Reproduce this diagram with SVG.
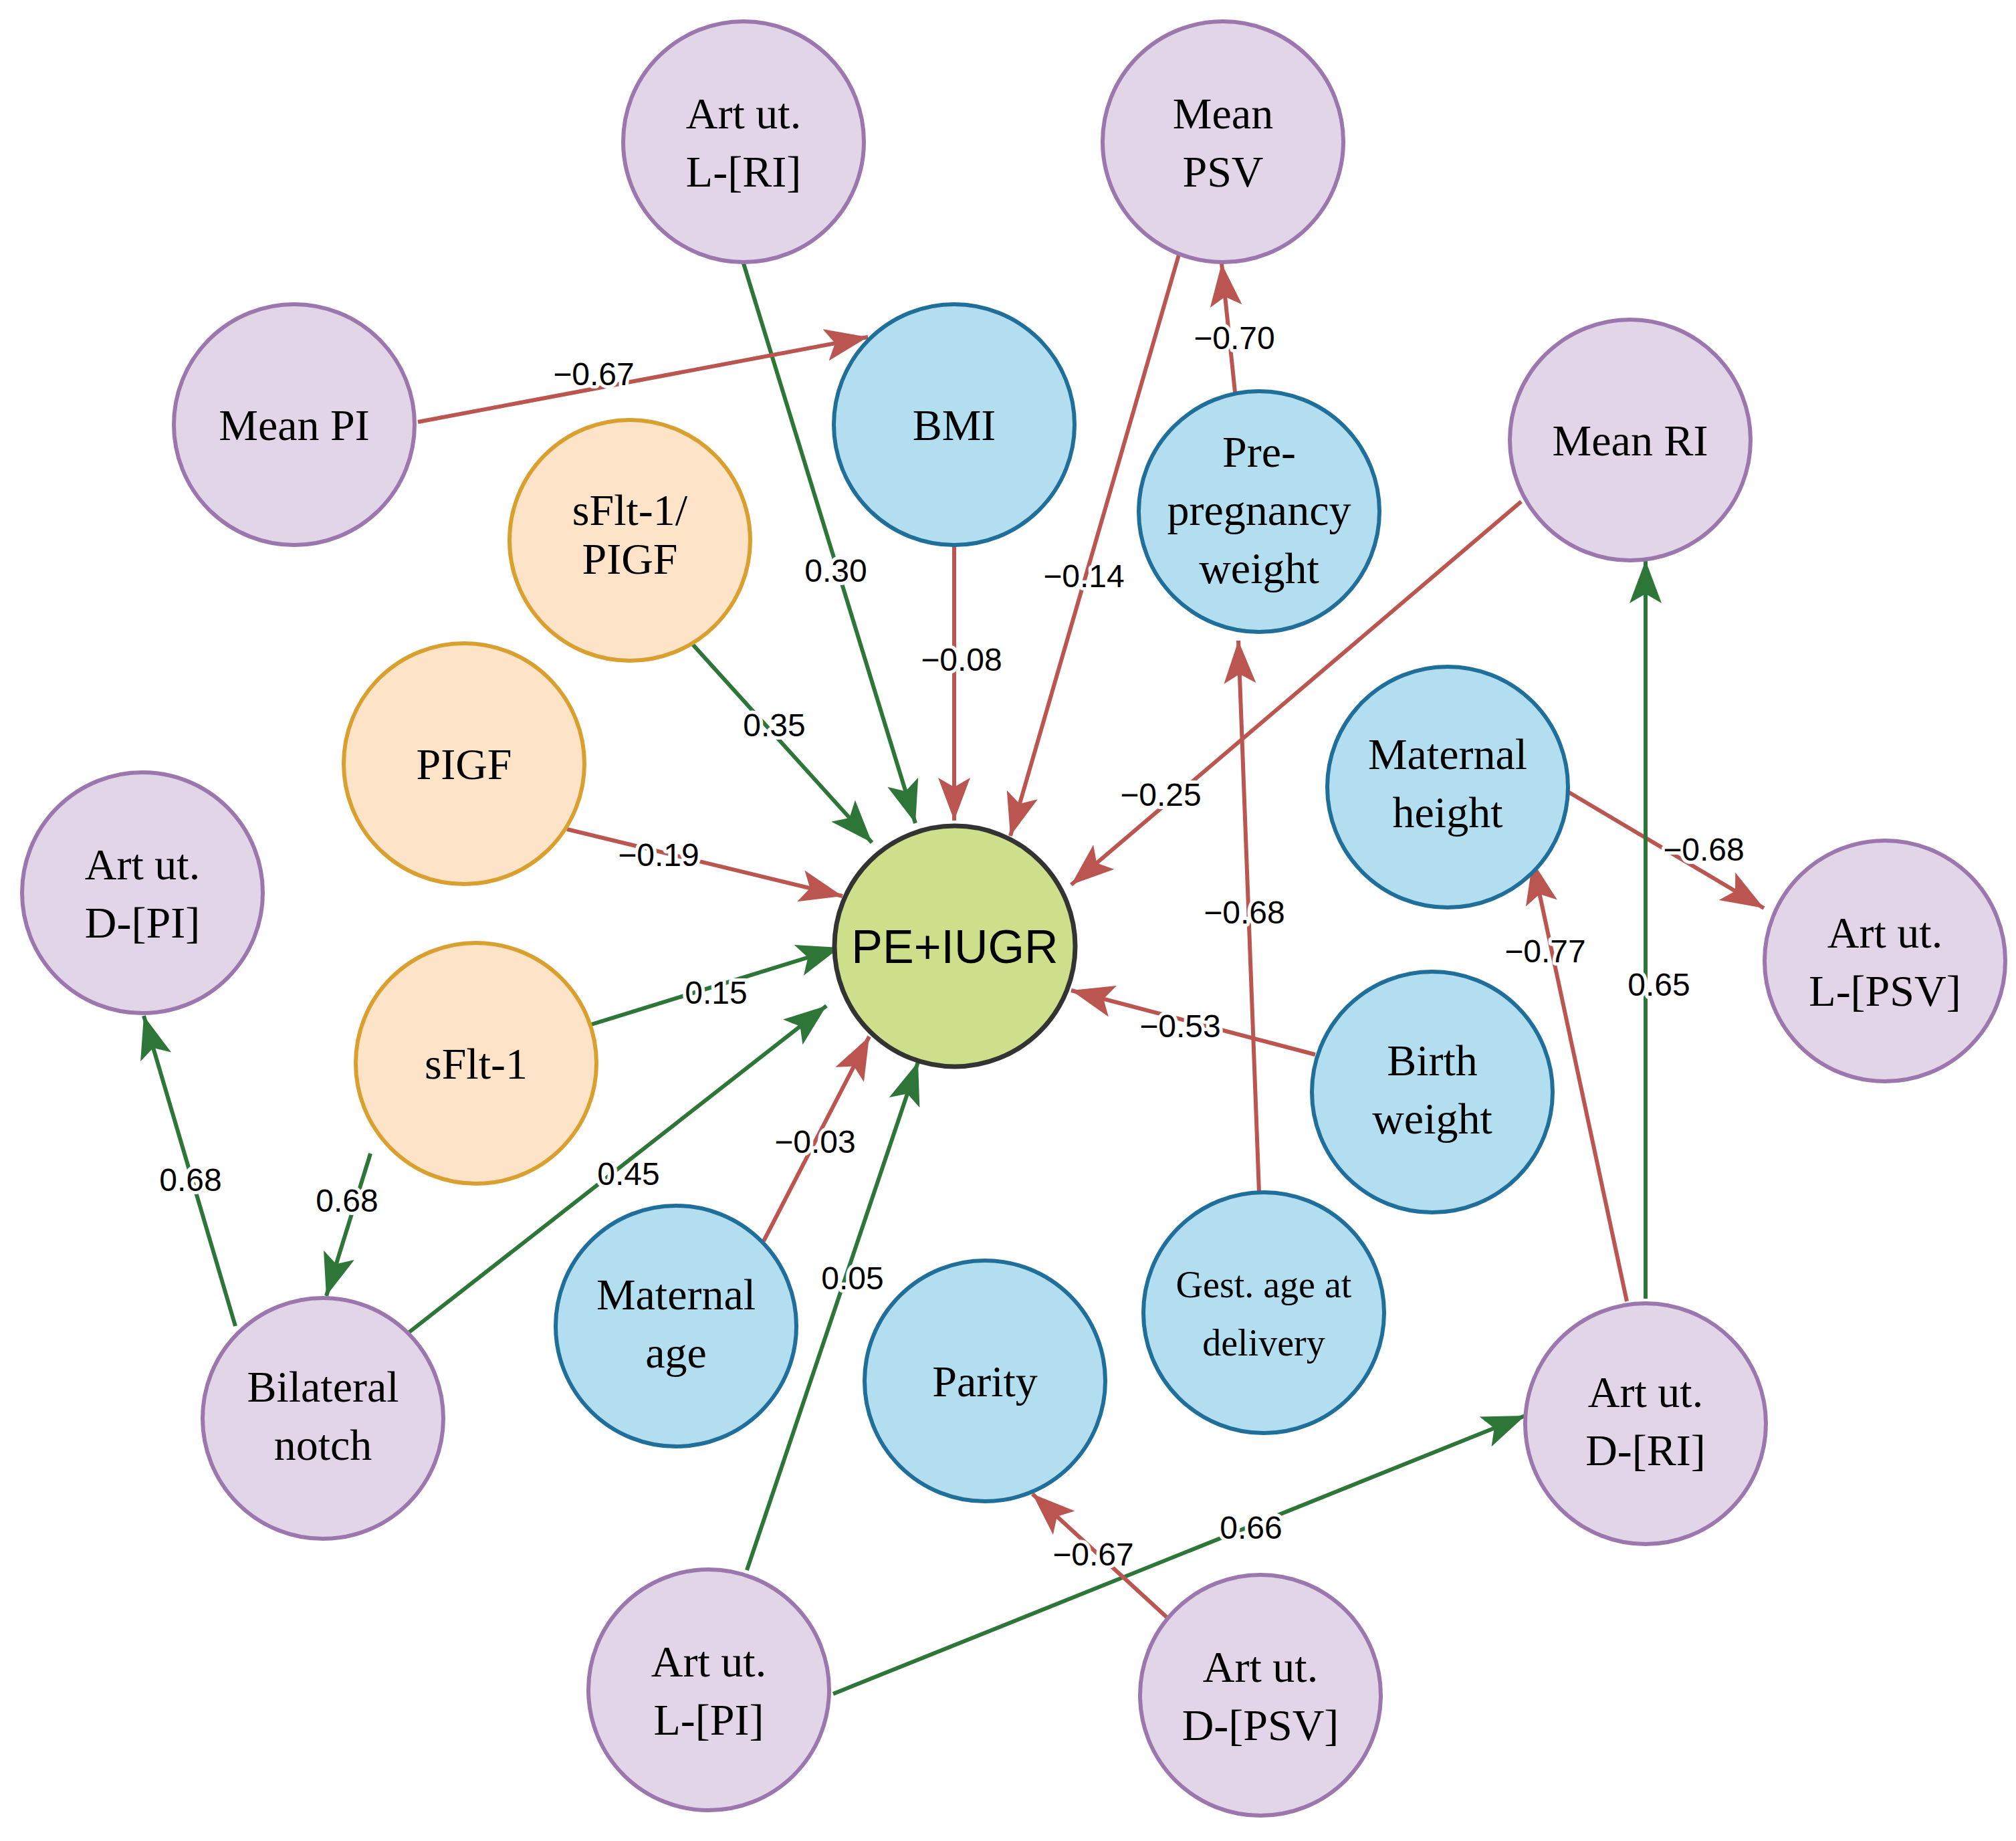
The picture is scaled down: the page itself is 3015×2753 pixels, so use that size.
<svg xmlns="http://www.w3.org/2000/svg" width="3015" height="2753" viewBox="0 0 3015 2753">
<style>
.p{fill:#e2d5e8;stroke:#9b77ad;stroke-width:6}
.b{fill:#b3def0;stroke:#1f6f9a;stroke-width:6}
.o{fill:#fde3c8;stroke:#d9a030;stroke-width:6}
.c{fill:#cddf8a;stroke:#333;stroke-width:7}
.t{font-family:"Liberation Serif",serif;font-size:66px;fill:#000;text-anchor:middle}
.s{font-family:"Liberation Sans",sans-serif;font-size:70px;fill:#000;text-anchor:middle}
.g{stroke:#2e7638;stroke-width:6;fill:none;marker-end:url(#ag)}
.r{stroke:#bb5550;stroke-width:6;fill:none;marker-end:url(#ar)}
.l{font-family:"Liberation Sans",sans-serif;font-size:48px;fill:#000;text-anchor:middle;stroke:#fff;stroke-width:10;paint-order:stroke;stroke-linejoin:round}
</style>
<defs>
<marker id="ag" markerUnits="userSpaceOnUse" markerWidth="70" markerHeight="50" refX="64" refY="24" orient="auto"><path d="M0,0 L64,24 L0,48 L14,24 z" fill="#2e7638"/></marker>
<marker id="ar" markerUnits="userSpaceOnUse" markerWidth="70" markerHeight="50" refX="64" refY="24" orient="auto"><path d="M0,0 L64,24 L0,48 L14,24 z" fill="#bb5550"/></marker>
</defs>
<rect width="3015" height="2753" fill="#fff"/>
<g id="connectors">
<line class="g" x1="1112" y1="394" x2="1369" y2="1231"/>
<line class="r" x1="625" y1="631" x2="1298" y2="504"/>
<line class="r" x1="1763" y1="381" x2="1511" y2="1250"/>
<line class="r" x1="1848" y1="596" x2="1827" y2="394"/>
<line class="r" x1="1427" y1="817" x2="1427" y2="1227"/>
<line class="g" x1="1029" y1="956" x2="1304" y2="1260"/>
<line class="r" x1="2275" y1="750" x2="1602" y2="1323"/>
<line class="r" x1="848" y1="1240" x2="1260" y2="1340"/>
<line class="g" x1="881" y1="1533" x2="1256" y2="1417"/>
<line class="g" x1="612" y1="1992" x2="1236" y2="1504"/>
<line class="r" x1="1142" y1="1856" x2="1300" y2="1550"/>
<line class="g" x1="1117" y1="2348" x2="1373" y2="1588"/>
<line class="r" x1="1967" y1="1577" x2="1602" y2="1481"/>
<line class="r" x1="1883" y1="1783" x2="1852" y2="958"/>
<line class="r" x1="2340" y1="1181" x2="2638" y2="1358"/>
<line class="r" x1="2433" y1="1946" x2="2292" y2="1288"/>
<line class="g" x1="2461" y1="1942" x2="2461" y2="838"/>
<line class="g" x1="554" y1="1725" x2="488" y2="1938"/>
<line class="g" x1="352" y1="1983" x2="215" y2="1519"/>
<line class="g" x1="1246" y1="2533" x2="2281" y2="2117"/>
<line class="r" x1="1750" y1="2423" x2="1544" y2="2234"/>
<text class="l" x="1250" y="870">0.30</text>
<text class="l" x="888" y="576">−0.67</text>
<text class="l" x="1621" y="878">−0.14</text>
<text class="l" x="1846" y="522">−0.70</text>
<text class="l" x="1438" y="1003">−0.08</text>
<text class="l" x="1158" y="1101">0.35</text>
<text class="l" x="1736" y="1205">−0.25</text>
<text class="l" x="985" y="1295">−0.19</text>
<text class="l" x="1071" y="1501">0.15</text>
<text class="l" x="940" y="1772">0.45</text>
<text class="l" x="1219" y="1724">−0.03</text>
<text class="l" x="1275" y="1928">0.05</text>
<text class="l" x="1765" y="1551">−0.53</text>
<text class="l" x="1861" y="1381">−0.68</text>
<text class="l" x="2548" y="1287">−0.68</text>
<text class="l" x="2311" y="1439">−0.77</text>
<text class="l" x="2481" y="1489">0.65</text>
<text class="l" x="519" y="1812">0.68</text>
<text class="l" x="285" y="1781">0.68</text>
<text class="l" x="1871" y="2301">0.66</text>
<text class="l" x="1635" y="2341">−0.67</text>
</g>
<g id="n-pe"><circle class="c" cx="1428" cy="1415" r="180"/><text class="s" x="1428" y="1440">PE+IUGR</text></g>
<g id="n-artlri"><circle class="p" cx="1112" cy="212" r="180"/><text class="t" x="1112" y="192">Art ut.</text><text class="t" x="1112" y="279">L-[RI]</text></g>
<g id="n-meanpsv"><circle class="p" cx="1829" cy="212" r="180"/><text class="t" x="1829" y="192">Mean</text><text class="t" x="1829" y="279">PSV</text></g>
<g id="n-meanpi"><circle class="p" cx="440" cy="635" r="180"/><text class="t" x="440" y="658">Mean PI</text></g>
<g id="n-bmi"><circle class="b" cx="1427" cy="635" r="180"/><text class="t" x="1427" y="658">BMI</text></g>
<g id="n-ratio"><circle class="o" cx="942" cy="808" r="180"/><text class="t" x="942" y="785">sFlt-1/</text><text class="t" x="942" y="858">PIGF</text></g>
<g id="n-prepreg"><circle class="b" cx="1883" cy="765" r="180"/><text class="t" x="1883" y="698">Pre-</text><text class="t" x="1883" y="785">pregnancy</text><text class="t" x="1883" y="872">weight</text></g>
<g id="n-meanri"><circle class="p" cx="2438" cy="658" r="180"/><text class="t" x="2438" y="681">Mean RI</text></g>
<g id="n-pigf"><circle class="o" cx="694" cy="1142" r="180"/><text class="t" x="694" y="1165">PIGF</text></g>
<g id="n-artdpi"><circle class="p" cx="213" cy="1335" r="180"/><text class="t" x="213" y="1315">Art ut.</text><text class="t" x="213" y="1402">D-[PI]</text></g>
<g id="n-mheight"><circle class="b" cx="2165" cy="1177" r="180"/><text class="t" x="2165" y="1150">Maternal</text><text class="t" x="2165" y="1237">height</text></g>
<g id="n-artlpsv"><circle class="p" cx="2819" cy="1437" r="180"/><text class="t" x="2819" y="1417">Art ut.</text><text class="t" x="2819" y="1504">L-[PSV]</text></g>
<g id="n-sflt"><circle class="o" cx="712" cy="1590" r="180"/><text class="t" x="712" y="1613">sFlt-1</text></g>
<g id="n-bw"><circle class="b" cx="2142" cy="1633" r="180"/><text class="t" x="2142" y="1608">Birth</text><text class="t" x="2142" y="1695">weight</text></g>
<g id="n-mage"><circle class="b" cx="1011" cy="1983" r="180"/><text class="t" x="1011" y="1958">Maternal</text><text class="t" x="1011" y="2045">age</text></g>
<g id="n-gest"><circle class="b" cx="1890" cy="1963" r="180"/><text class="t" x="1890" y="1940" style="font-size:56px">Gest. age at</text><text class="t" x="1890" y="2027" style="font-size:56px">delivery</text></g>
<g id="n-notch"><circle class="p" cx="483" cy="2121" r="180"/><text class="t" x="483" y="2096">Bilateral</text><text class="t" x="483" y="2183">notch</text></g>
<g id="n-parity"><circle class="b" cx="1473" cy="2065" r="180"/><text class="t" x="1473" y="2088">Parity</text></g>
<g id="n-artdri"><circle class="p" cx="2461" cy="2129" r="180"/><text class="t" x="2461" y="2104">Art ut.</text><text class="t" x="2461" y="2191">D-[RI]</text></g>
<g id="n-artlpi"><circle class="p" cx="1060" cy="2527" r="180"/><text class="t" x="1060" y="2507">Art ut.</text><text class="t" x="1060" y="2594">L-[PI]</text></g>
<g id="n-artdpsv"><circle class="p" cx="1885" cy="2535" r="180"/><text class="t" x="1885" y="2515">Art ut.</text><text class="t" x="1885" y="2602">D-[PSV]</text></g>
</svg>
